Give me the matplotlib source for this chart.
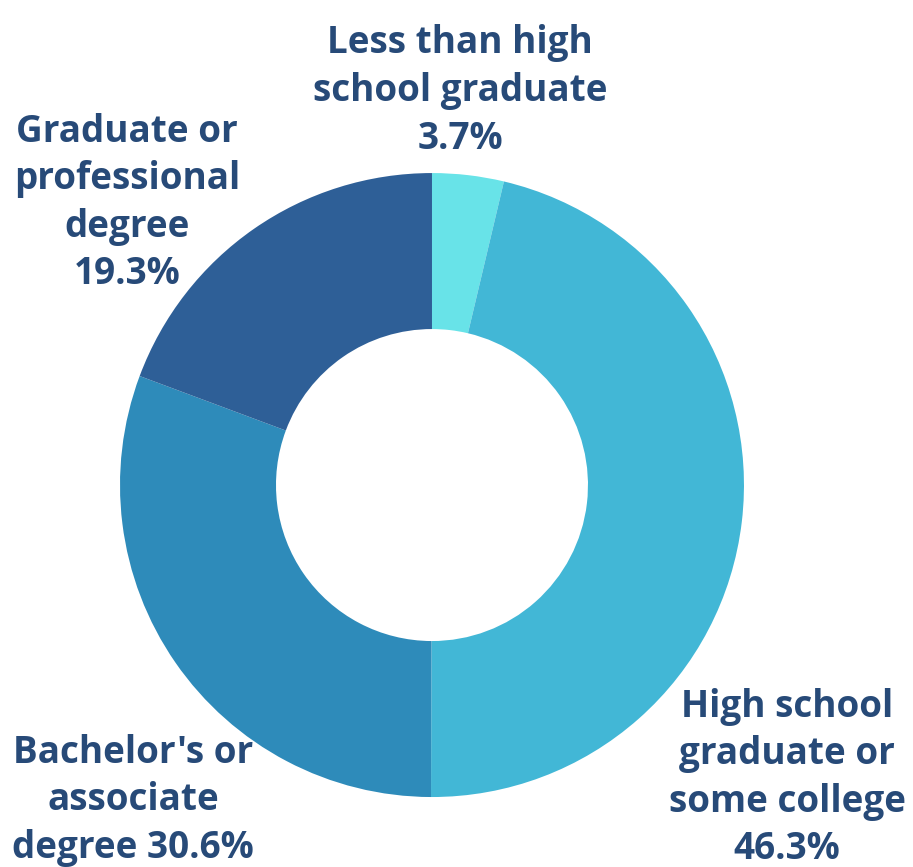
import matplotlib
matplotlib.use("Agg")
import matplotlib.pyplot as plt

categories = ["Less than high\nschool graduate", "High school\ngraduate or\nsome college",
              "Bachelor's or\nassociate\ndegree", "Graduate or\nprofessional\ndegree"]
values = [3.7, 46.3, 30.6, 19.3]
colors = ["#68E3E8", "#42B7D6", "#2E8BBA", "#2E5F97"]
label_texts = ["Less than high\nschool graduate\n3.7%",
               "High school\ngraduate or\nsome college\n46.3%",
               "Bachelor's or\nassociate\ndegree 30.6%",
               "Graduate or\nprofessional\ndegree\n19.3%"]
label_pos = [(0.09, 1.263), (1.138, -0.939), (-0.958, -1.01), (-0.978, 0.904)]

plt.rcParams['font.family'] = ['Open Sans', 'DejaVu Sans']

fig = plt.figure(figsize=(9.13, 8.67), dpi=100)
ax = fig.add_axes([0.1314, 0.0807, 0.6835, 0.7197])
ax.pie(values, colors=colors, startangle=90, counterclock=False,
       wedgeprops=dict(width=0.5, linewidth=0), radius=1.0)
ax.set_xlim(-1, 1)
ax.set_ylim(-1, 1)
ax.set_aspect('equal')
ax.axis('off')

for txt, (x, y) in zip(label_texts, label_pos):
    ax.text(x, y, txt, ha='center', va='center', fontsize=26.6, fontweight='bold',
            color='#274A78', linespacing=1.33, clip_on=False)

fig.savefig("out.png", dpi=100)
